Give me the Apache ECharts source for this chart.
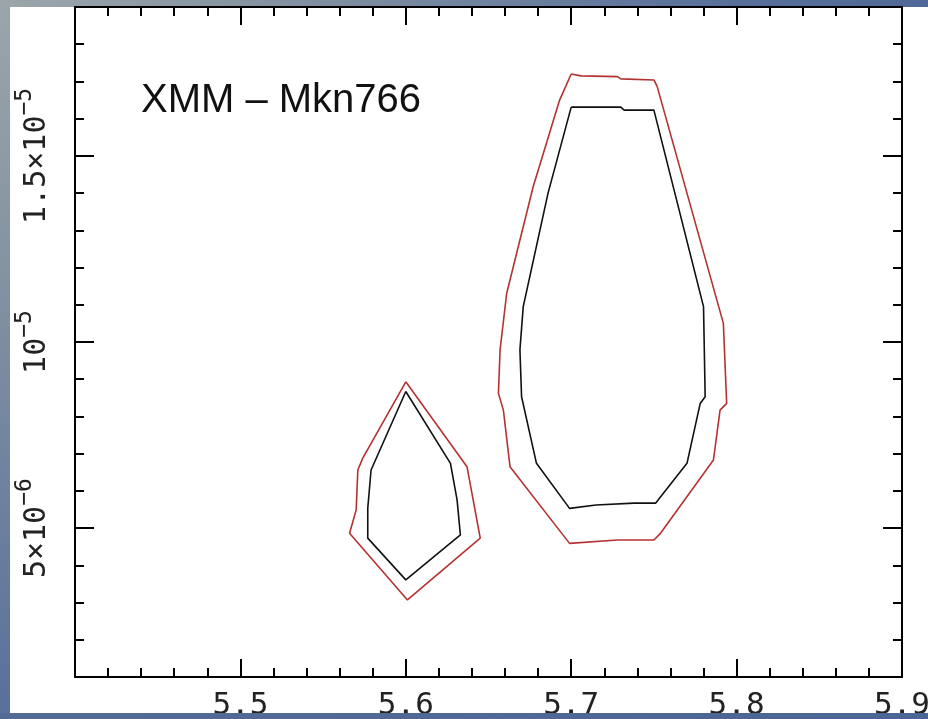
<!DOCTYPE html>
<html>
<head>
<meta charset="utf-8">
<script src="https://cdn.jsdelivr.net/npm/echarts@6/dist/echarts.min.js"></script>
<style>
html,body{margin:0;padding:0;width:928px;height:719px;overflow:hidden;}
body{background:radial-gradient(circle at 0 0,#9ba5aa 0px,#8594a2 260px,#5a719b 700px,#4c6697 1000px);position:relative;}
#paper{position:absolute;left:10px;top:7px;width:918px;height:706px;background:#fff;}
#chart{position:absolute;left:0;top:0;width:928px;height:719px;}
#band{position:absolute;left:0;top:713px;width:928px;height:6px;background:linear-gradient(to right,#546b95,#4b6594);z-index:5;}
</style>
</head>
<body>
<div id="paper"></div>
<div id="chart"></div>
<div id="band"></div>
<script>
// Contour vertices [x, y]
const redSmall = [[5.600,8.93e-6],[5.637,6.65e-6],[5.645,4.73e-6],[5.601,3.07e-6],[5.566,4.86e-6],[5.570,5.49e-6],[5.571,6.56e-6],[5.574,6.88e-6],[5.600,8.93e-6]];
const blackSmall = [[5.600,8.67e-6],[5.627,6.74e-6],[5.631,5.76e-6],[5.633,4.82e-6],[5.600,3.61e-6],[5.577,4.73e-6],[5.577,5.53e-6],[5.579,6.56e-6],[5.600,8.67e-6]];
const redBig = [[5.700,17.20e-6],[5.706,17.15e-6],[5.728,17.13e-6],[5.730,17.07e-6],[5.750,17.04e-6],[5.752,16.86e-6],[5.792,10.50e-6],[5.794,8.35e-6],[5.790,8.17e-6],[5.786,6.83e-6],[5.754,4.86e-6],[5.750,4.68e-6],[5.728,4.68e-6],[5.699,4.59e-6],[5.663,6.65e-6],[5.659,8.17e-6],[5.656,8.62e-6],[5.657,9.79e-6],[5.661,11.31e-6],[5.677,14.17e-6],[5.693,16.50e-6],[5.700,17.20e-6]];
const blackBig = [[5.700,16.31e-6],[5.730,16.31e-6],[5.732,16.23e-6],[5.750,16.23e-6],[5.780,10.95e-6],[5.781,8.53e-6],[5.778,8.35e-6],[5.770,6.74e-6],[5.751,5.67e-6],[5.738,5.67e-6],[5.715,5.62e-6],[5.699,5.53e-6],[5.679,6.74e-6],[5.670,8.53e-6],[5.669,9.79e-6],[5.671,10.95e-6],[5.686,14.0e-6],[5.700,16.31e-6]];

const xMin = 5.4, xMax = 5.9, xStep = 0.1;
const yMin = 1e-6, yMax = 1.9e-5, yMinorStep = 1e-6;
const yMajorTicks = [5e-6, 1e-5, 1.5e-5];
const yLabels = {'5e-6':'{b|5×10}{e|−6}', '0.00001':'{b|10}{e|−5}', '0.000015':'{b|1.5×10}{e|−5}'};
const titleText = 'XMM – Mkn766';

const mono = '"DejaVu Sans Mono", monospace';

function xAxisDef(pos, showLabel){
  return {
    type:'value', position:pos, min:xMin, max:xMax, interval:xStep,
    axisLine:{show:true, onZero:false, lineStyle:{color:'#000', width:2}},
    axisTick:{show:true, inside:true, length:18, lineStyle:{color:'#000', width:2}},
    minorTick:{show:true, splitNumber:5, length:9, lineStyle:{color:'#000', width:2}},
    splitLine:{show:false}, minorSplitLine:{show:false},
    axisLabel:{show:showLabel, margin:13, color:'#222', fontFamily:mono, fontSize:31,
      formatter:v => (Math.abs(v - xMin) < 1e-9 ? '' : v.toFixed(1))}
  };
}
function yMinorDef(pos){
  return {
    type:'value', position:pos, min:yMin, max:yMax, interval:yMinorStep,
    axisLine:{show:true, onZero:false, lineStyle:{color:'#000', width:2}},
    axisTick:{show:true, inside:true, length:9, lineStyle:{color:'#000', width:2}},
    splitLine:{show:false}, axisLabel:{show:false}
  };
}
function yMajorDef(pos, showLabel){
  return {
    type:'value', position:pos, min:yMin, max:yMax,
    axisLine:{show:false},
    axisTick:{show:true, inside:true, length:19, customValues:yMajorTicks, lineStyle:{color:'#000', width:2}},
    splitLine:{show:false},
    axisLabel:{show:showLabel, customValues:yMajorTicks, rotate:90, margin:23,
      formatter:v => { for (const k in yLabels){ if (Math.abs(Number(k)-v) < 1e-12) return yLabels[k]; } return ''; },
      rich:{
        b:{fontFamily:mono, fontSize:30, color:'#222', lineHeight:38, verticalAlign:'bottom'},
        e:{fontFamily:mono, fontSize:23, color:'#222', lineHeight:20, verticalAlign:'top'}
      }
    }
  };
}
function contour(data, color){
  return {type:'line', data:data, xAxisIndex:0, yAxisIndex:0, symbol:'none', silent:true,
    lineStyle:{color:color, width:1.6}, animation:false};
}

const chart = echarts.init(document.getElementById('chart'), null, {renderer:'canvas'});
chart.setOption({
  backgroundColor:'transparent',
  animation:false,
  title:{text:titleText, left:141, top:81, padding:0,
    textStyle:{fontFamily:'"Liberation Sans", Arial, sans-serif', fontSize:40, fontWeight:'normal', color:'#111'}},
  grid:{left:75, right:26, top:7, bottom:42, show:false, containLabel:false, outerBoundsMode:'none'},
  xAxis:[xAxisDef('bottom', true), xAxisDef('top', false)],
  yAxis:[yMinorDef('left'), yMinorDef('right'), yMajorDef('left', true), yMajorDef('right', false)],
  series:[
    contour(redSmall, '#b53232'),
    contour(blackSmall, '#111'),
    contour(redBig, '#b53232'),
    contour(blackBig, '#111')
  ]
});
</script>
</body>
</html>
